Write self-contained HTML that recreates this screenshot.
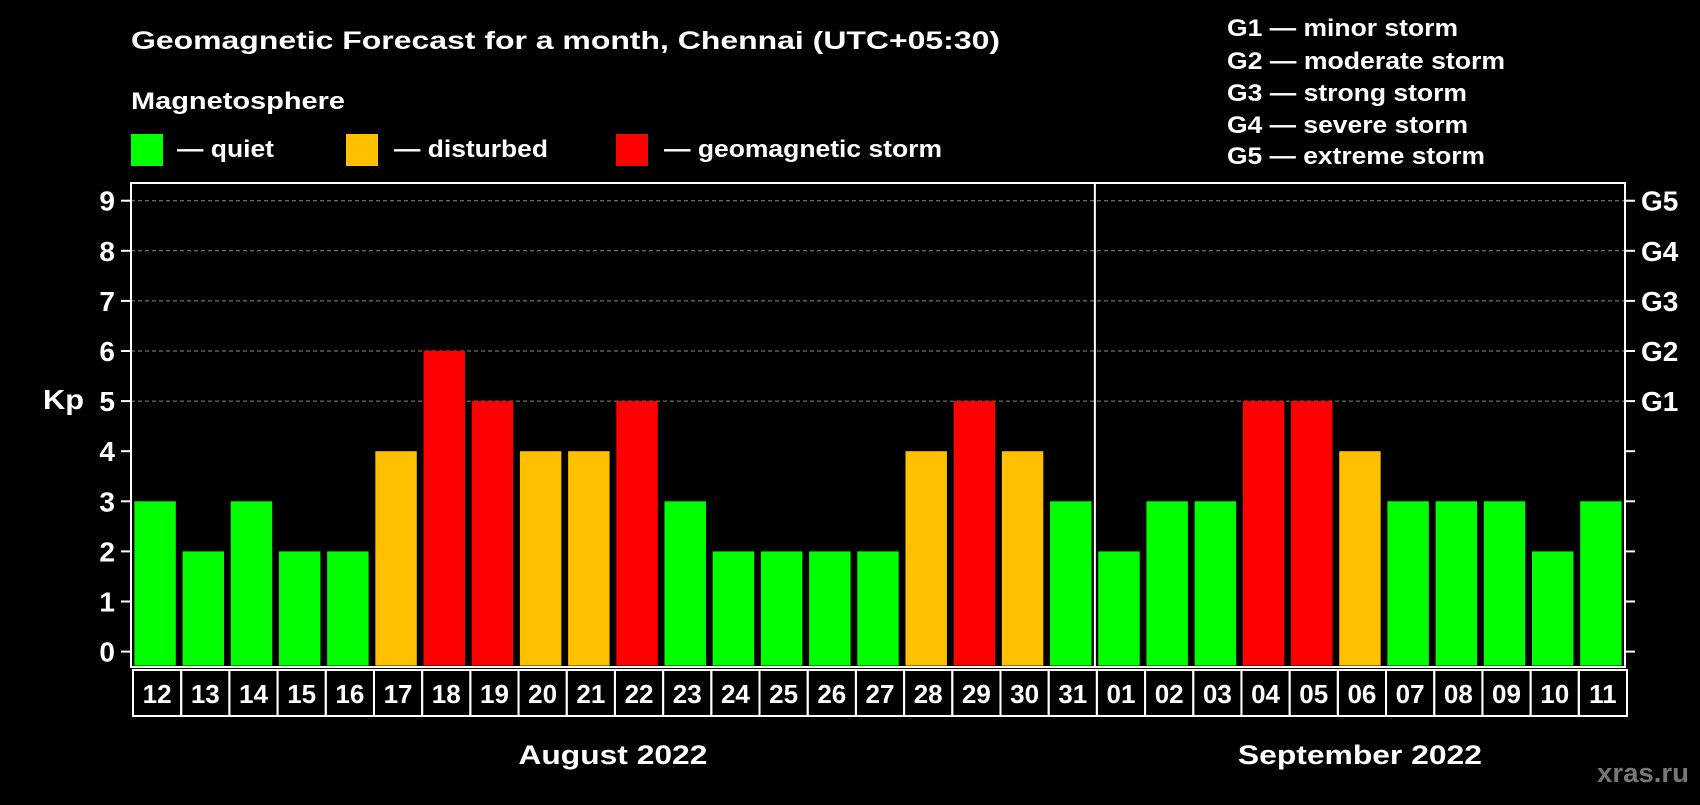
<!DOCTYPE html>
<html><head><meta charset="utf-8"><style>
html,body{margin:0;padding:0;background:#000;}
svg text{font-family:"Liberation Sans",sans-serif;font-weight:bold;fill:#fff;}
</style></head><body>
<svg id="c" width="1700" height="800" viewBox="0 0 1700 800" xmlns="http://www.w3.org/2000/svg">
<rect width="1700" height="800" fill="#000"/>
<text x="131" y="49" font-size="25" textLength="869" lengthAdjust="spacingAndGlyphs">Geomagnetic Forecast for a month, Chennai (UTC+05:30)</text>
<text x="131" y="109" font-size="24" textLength="214" lengthAdjust="spacingAndGlyphs">Magnetosphere</text>
<rect x="131" y="134" width="32" height="32" fill="#00ff00"/>
<text x="177" y="157" font-size="24" textLength="97" lengthAdjust="spacingAndGlyphs">— quiet</text>
<rect x="346" y="134" width="32" height="32" fill="#ffc000"/>
<text x="394" y="157" font-size="24" textLength="154" lengthAdjust="spacingAndGlyphs">— disturbed</text>
<rect x="616" y="134" width="32" height="32" fill="#ff0000"/>
<text x="664" y="157" font-size="24" textLength="278" lengthAdjust="spacingAndGlyphs">— geomagnetic storm</text>
<g font-size="24">
<text x="1227" y="36" textLength="231" lengthAdjust="spacingAndGlyphs">G1 — minor storm</text>
<text x="1227" y="69" textLength="278" lengthAdjust="spacingAndGlyphs">G2 — moderate storm</text>
<text x="1227" y="101" textLength="240" lengthAdjust="spacingAndGlyphs">G3 — strong storm</text>
<text x="1227" y="133" textLength="241" lengthAdjust="spacingAndGlyphs">G4 — severe storm</text>
<text x="1227" y="164" textLength="258" lengthAdjust="spacingAndGlyphs">G5 — extreme storm</text>
</g>
<text x="43" y="409" font-size="28" textLength="41" lengthAdjust="spacingAndGlyphs">Kp</text>
<text x="1597" y="782" font-size="27" textLength="92" lengthAdjust="spacingAndGlyphs" style="fill:#777">xras.ru</text>
<g id="plot"></g>
</svg>
<script>
const days=["12","13","14","15","16","17","18","19","20","21","22","23","24","25","26","27","28","29","30","31","01","02","03","04","05","06","07","08","09","10","11"];
const kp=[3,2,3,2,2,4,6,5,4,4,5,3,2,2,2,2,4,5,4,3,2,3,3,5,5,4,3,3,3,2,3];
const yTicks=[0,1,2,3,4,5,6,7,8,9];
const gLabels=["","","","","","G1","G2","G3","G4","G5"];
const months=[{name:"August 2022",start:0,end:20,w:189},{name:"September 2022",start:20,end:31,w:244}];
const L=131,R=1625,T=183,B=667;
const y0=651.6,unit=50.1;
const y=v=>y0-v*unit;
const slot=(R-L)/days.length;
const x=i=>L+i*slot;
const ns="http://www.w3.org/2000/svg";
const g=document.getElementById('plot');
function mk(tag,attrs,parent){const e=document.createElementNS(ns,tag);for(const k in attrs)e.setAttribute(k,attrs[k]);(parent||g).appendChild(e);return e;}
yTicks.forEach((t,i)=>{
  if(t>=5){const gl=mk('line',{x1:L,x2:R,y1:y(t),y2:y(t),stroke:'#888','stroke-width':1,'stroke-dasharray':'4 3'});
  
  }
  mk('line',{x1:L-10,x2:L,y1:y(t),y2:y(t),stroke:'#fff','stroke-width':2});
  mk('line',{x1:R,x2:R+10,y1:y(t),y2:y(t),stroke:'#fff','stroke-width':2});
  const tl=mk('text',{x:L-16,y:y(t)+10,'font-size':28,'text-anchor':'end'});tl.textContent=t;
  
  
  if(gLabels[i]){const gt=mk('text',{x:R+16,y:y(t)+10,'font-size':28});gt.textContent=gLabels[i];
  
  }
});
kp.forEach((v,i)=>{
  const col=v>=5?'#ff0000':(v>=4?'#ffc000':'#00ff00');
  const bw=slot*0.86;
  const b=mk('rect',{x:x(i)+(slot-bw)/2,y:y(v),width:bw,height:y0+14-y(v),fill:col});
  
  
  const c=mk('rect',{x:x(i)+2,y:670,width:slot,height:46,fill:'none',stroke:'#fff','stroke-width':2});
  
  
  const t=mk('text',{x:x(i)+2+slot/2,y:703,'font-size':26,'text-anchor':'middle'});t.textContent=days[i];
  
  
});
const frame=mk('rect',{x:L,y:T,width:R-L,height:B-T,fill:'none',stroke:'#fff','stroke-width':2});


months.forEach((m,i)=>{
  if(m.start>0){const s=mk('line',{x1:x(m.start),x2:x(m.start),y1:T,y2:B,stroke:'#fff','stroke-width':2});
  
  }
  const cx=(x(m.start)+x(m.end))/2;
  const t=mk('text',{x:cx-m.w/2,y:764,'font-size':27,textLength:m.w,lengthAdjust:'spacingAndGlyphs'});t.textContent=m.name;
  
  
});
</script>
</body></html>
